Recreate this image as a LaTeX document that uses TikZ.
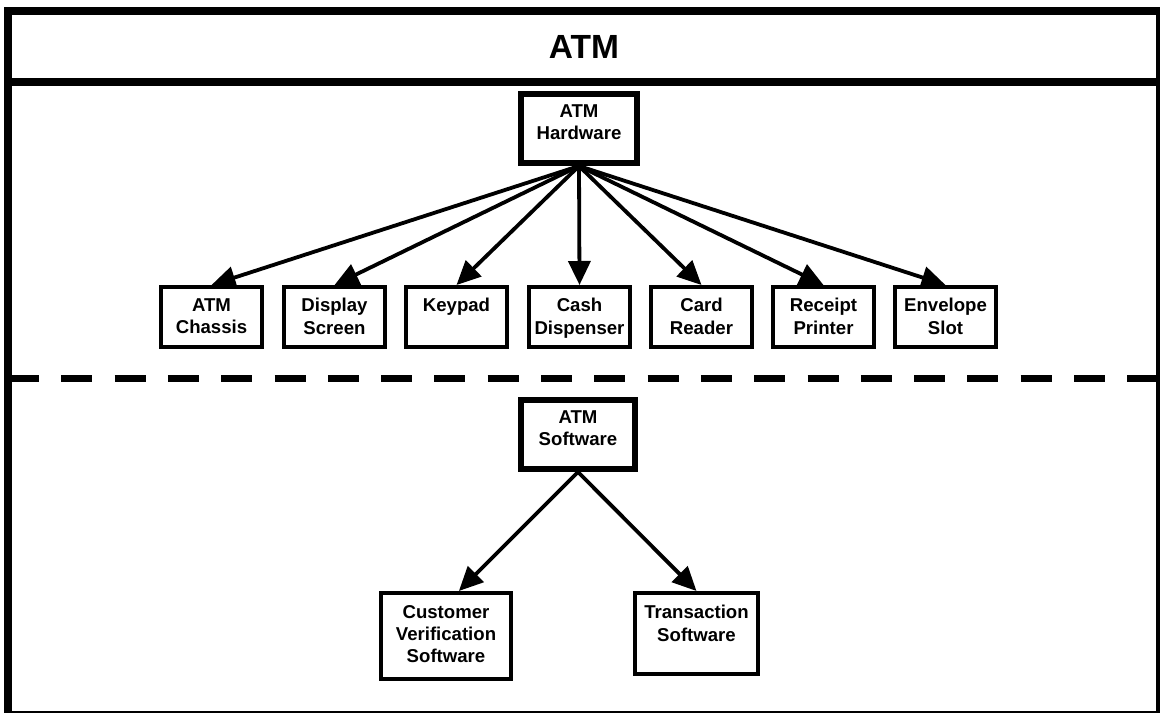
\documentclass[tikz,border=0pt]{standalone}
\usepackage{fontspec}
\setmainfont{Liberation Sans}
\usetikzlibrary{arrows.meta}

\begin{document}
\begin{tikzpicture}[x=0.5pt,y=-0.5pt,
    part/.style={draw,line width=2pt,minimum width=50.5pt,minimum height=30pt,inner sep=0pt},
    group/.style={draw,line width=3pt,minimum height=34.5pt,inner sep=0pt},
    txt/.style={anchor=north,yshift=-6.5pt,inner sep=0pt,align=center,font=\fontsize{9.3}{11.15}\selectfont\bfseries},
    link/.style={line width=1.9pt,-{Triangle[length=12pt,width=11pt]}}]
        \useasboundingbox (0,0) rectangle (1160,712);
        % frame and title strip
        \draw[line width=4pt] (8,11) rectangle (1160,715);
        \draw[line width=4pt] (8,82)--(1160,82);
        \node[font=\fontsize{16.75}{20}\selectfont\bfseries,inner sep=0pt] (title) at (584,47) {ATM};
        \draw[line width=3.5pt,dash pattern=on 15.5pt off 11.15pt] (8,378.5)--(1160,378.5);
        % hardware
        \node[group,minimum width=58pt,label={[txt]north:{ATM\\Hardware}}] (hw) at (579,128.5) {};
        \node[part,label={[txt]north:{ATM\\Chassis}}] (chassis) at (211.5,317) {};
        \node[part,label={[txt]north:{Display\\Screen}}] (display) at (334.5,317) {};
        \node[part,label={[txt]north:{Keypad}}] (keypad) at (456.5,317) {};
        \node[part,label={[txt]north:{Cash\\Dispenser}}] (cash) at (579.5,317) {};
        \node[part,label={[txt]north:{Card\\Reader}}] (card) at (701.5,317) {};
        \node[part,label={[txt]north:{Receipt\\Printer}}] (printer) at (823.5,317) {};
        \node[part,label={[txt]north:{Envelope\\Slot}}] (slot) at (945.5,317) {};
        \draw[link] (hw.south)--(chassis.north);
        \draw[link] (hw.south)--(display.north);
        \draw[link] (hw.south)--(keypad.north);
        \draw[link] (hw.south)--(cash.north);
        \draw[link] (hw.south)--(card.north);
        \draw[link] (hw.south)--(printer.north);
        \draw[link] (hw.south)--(slot.north);
        % software
        \node[group,minimum width=57pt,label={[txt]north:{ATM\\Software}}] (sw) at (578,434.5) {};
        \node[part,minimum width=65pt,minimum height=43pt,label={[txt,yshift=-0.5pt]north:{Customer\\Verification\\Software}}] (verify) at (446,636) {};
        \node[part,minimum width=61.5pt,minimum height=40.5pt,label={[txt,yshift=-0.5pt]north:{Transaction\\Software}}] (trans) at (696.5,633.5) {};
        \draw[link] (sw.south)--(verify.74);
        \draw[link] (sw.south)--(trans.north);
\end{tikzpicture}
\end{document}
